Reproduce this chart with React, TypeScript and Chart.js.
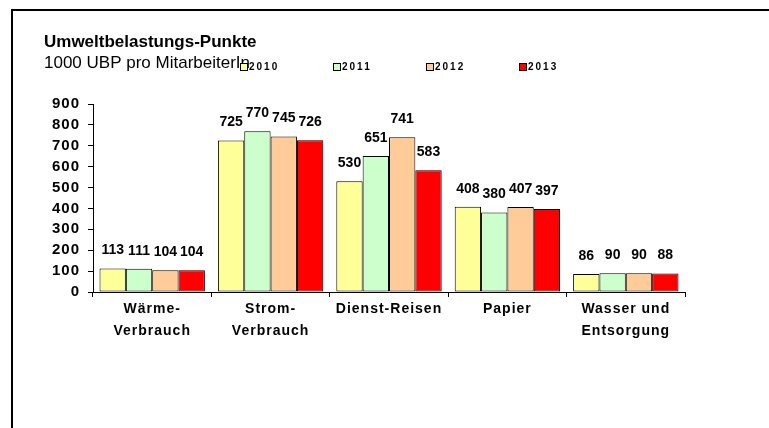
import React, { useEffect, useRef } from "react";
import { Chart, registerables } from "chart.js";

Chart.register(...registerables);

const categories: string[][] = [
  ["Wärme-", "Verbrauch"],
  ["Strom-", "Verbrauch"],
  ["Dienst-Reisen"],
  ["Papier"],
  ["Wasser und", "Entsorgung"],
];
const years = ["2010", "2011", "2012", "2013"];
const values2010 = [113, 725, 530, 408, 86];
const values2011 = [111, 770, 651, 380, 90];
const values2012 = [104, 745, 741, 407, 90];
const values2013 = [104, 726, 583, 397, 88];
const colors = ["#FFFF99", "#CCFFCC", "#FFCC99", "#FF0000"];
const title = "Umweltbelastungs-Punkte";
const subtitle = "1000 UBP pro MitarbeiterIn";

const FONT = "'Liberation Sans', Arial, sans-serif";

const framePlugin = {
  id: "frame",
  beforeDraw(chart: any) {
    const ctx = chart.ctx;
    ctx.save();
    ctx.fillStyle = "#ffffff";
    ctx.fillRect(0, 0, chart.width, chart.height);
    ctx.strokeStyle = "#000000";
    ctx.lineWidth = 2;
    ctx.strokeRect(12, 10, 2000, 2000);
    ctx.restore();
    ctx.letterSpacing = "1px";
  },
  afterDraw(chart: any) {
    const ctx = chart.ctx;
    ctx.letterSpacing = "0px";
    ctx.save();
    ctx.fillStyle = "#000";
    ctx.textBaseline = "middle";
    ctx.textAlign = "left";
    // title
    ctx.font = `bold 17px ${FONT}`;
    ctx.fillText(title, 44, 42);
    ctx.font = `17px ${FONT}`;
    ctx.fillText(subtitle, 44, 63);
    // legend
    const xs = [240, 333, 426, 519];
    years.forEach((y, i) => {
      ctx.fillStyle = colors[i];
      ctx.fillRect(xs[i], 63, 7, 7);
      ctx.strokeStyle = "#000";
      ctx.lineWidth = 1;
      ctx.strokeRect(xs[i] + 0.5, 63.5, 7, 7);
      ctx.fillStyle = "#000";
      ctx.font = `bold 10px ${FONT}`;
      ctx.letterSpacing = "2px";
      ctx.fillText(y, xs[i] + 9, 67);
      ctx.letterSpacing = "0px";
    });
    // data labels
    ctx.font = `bold 14px ${FONT}`;
    ctx.textAlign = "center";
    chart.data.datasets.forEach((ds: any, di: number) => {
      const meta = chart.getDatasetMeta(di);
      meta.data.forEach((bar: any, i: number) => {
        ctx.fillText(String(ds.data[i]), bar.x, bar.y - 18);
      });
    });
    ctx.restore();
  },
};

export default function App() {
  const ref = useRef<HTMLCanvasElement>(null);
  useEffect(() => {
    document.body.style.margin = "0";
    const series = [values2010, values2011, values2012, values2013];
    const chart = new Chart(ref.current!, {
      type: "bar",
      data: {
        labels: categories,
        datasets: series.map((d, i) => ({
          label: years[i],
          data: d,
          backgroundColor: colors[i],
          borderColor: "#000",
          borderWidth: 1,
          borderSkipped: false,
          categoryPercentage: 0.89,
          barPercentage: 1,
        })),
      },
      options: {
        responsive: false,
        animation: false,
        devicePixelRatio: 1,
        layout: { padding: { top: 104, right: 84, left: 0, bottom: 0 } },
        plugins: { legend: { display: false }, tooltip: { enabled: false }, title: { display: false } },
        scales: {
          x: {
            afterFit(scale: any) {
              scale.height = 136;
            },
            grid: {
              offset: true,
              drawOnChartArea: false,
              drawTicks: true,
              tickLength: 5,
              color: "#000",
            },
            border: { display: true, color: "#000", width: 1 },
            ticks: {
              color: "#000",
              font: { family: FONT, weight: "bold", size: 14, lineHeight: 1.57 },
              padding: 1,
              maxRotation: 0,
              autoSkip: false,
            },
          },
          y: {
            min: 0,
            max: 900,
            afterFit(scale: any) {
              scale.width = 93;
            },
            grid: {
              drawOnChartArea: false,
              drawTicks: true,
              tickLength: 5,
              color: "#000",
            },
            border: { display: true, color: "#000", width: 1 },
            ticks: {
              stepSize: 100,
              autoSkip: false,
              color: "#000",
              font: { family: FONT, weight: "bold", size: 15 },
              padding: 8,
            },
          },
        },
      },
      plugins: [framePlugin],
    });
    return () => chart.destroy();
  }, []);
  return (
    <div style={{ position: "absolute", left: 0, top: 0, width: 769, height: 428 }}>
      <canvas ref={ref} width={769} height={428} style={{ width: 769, height: 428 }} />
    </div>
  );
}
